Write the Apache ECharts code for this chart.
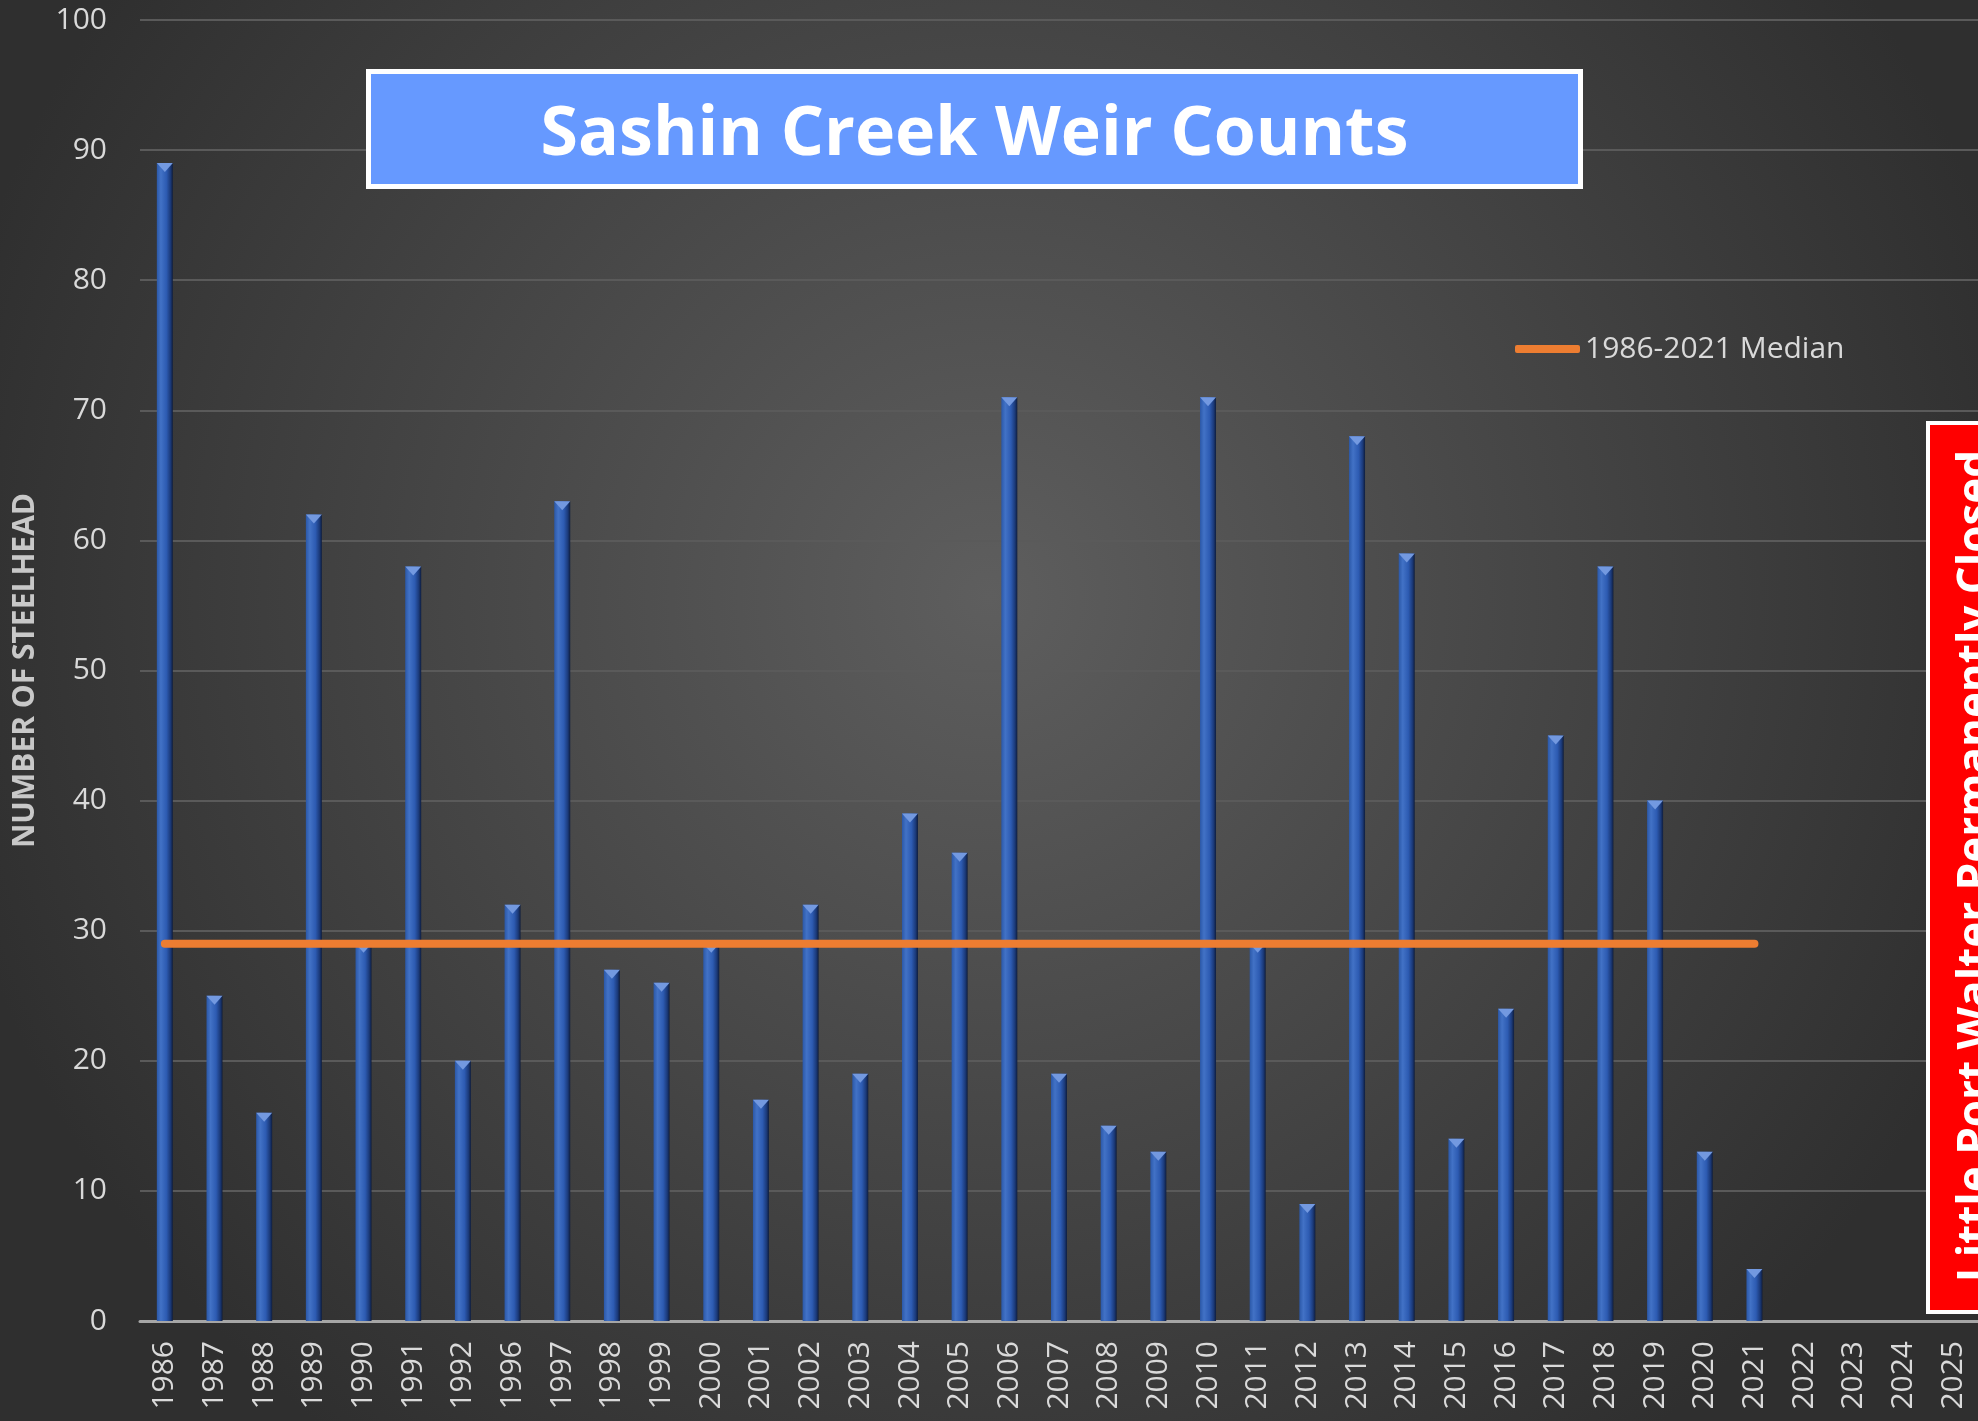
<!DOCTYPE html>
<html>
<head>
<meta charset="utf-8">
<title>Sashin Creek Weir Counts</title>
<script src="https://cdn.jsdelivr.net/npm/echarts@6/dist/echarts.min.js"></script>
<style>
  html, body { margin: 0; padding: 0; background: #3a3a3a; }
  #chart { width: 1978px; height: 1421px; }
</style>
</head>
<body>
<div id="chart"></div>
<script>
// 年份 (1993-1995 没有数据, 图中直接跳过)
const years = ['1986', '1987', '1988', '1989', '1990', '1991', '1992',
  '1996', '1997', '1998', '1999', '2000', '2001', '2002', '2003', '2004',
  '2005', '2006', '2007', '2008', '2009', '2010', '2011', '2012', '2013',
  '2014', '2015', '2016', '2017', '2018', '2019', '2020', '2021',
  '2022', '2023', '2024', '2025'];

// 每年的 steelhead 数量
const counts = [89, 25, 16, 62, 29, 58, 20,
  32, 63, 27, 26, 29, 17, 32, 19, 39,
  36, 71, 19, 15, 13, 71, 29, 9, 68,
  59, 14, 24, 45, 58, 40, 13, 4,
  null, null, null, null];

// 1986-2021 中位数线
const medianValues = [29, 29, 29, 29, 29, 29, 29,
  29, 29, 29, 29, 29, 29, 29, 29, 29,
  29, 29, 29, 29, 29, 29, 29, 29, 29,
  29, 29, 29, 29, 29, 29, 29, 29,
  null, null, null, null];

const yTicks = { min: 0, max: 100, interval: 10 };

const titleText = 'Sashin Creek Weir Counts';
const closedText = 'Little Port Walter Permanently Closed';
const medianName = '1986-2021 Median';

(function() {
  const chart = echarts.init(document.getElementById('chart'));
  const FONT = '"Open Sans", "Noto Sans", sans-serif';

  // 柱子的圆柱效果
  const barGradient = new echarts.graphic.LinearGradient(0, 0, 1, 0, [
    { offset: 0, color: '#2b58a8' },
    { offset: 0.25, color: '#4272c6' },
    { offset: 0.6, color: '#2d5bb2' },
    { offset: 0.85, color: '#1b3a7a' },
    { offset: 1, color: '#0f1d3c' }
  ]);

  const option = {
    backgroundColor: new echarts.graphic.RadialGradient(0.5, 0.42, 0.75, [
      { offset: 0, color: '#5e5e5e' },
      { offset: 1, color: '#2f2f2f' }
    ]),
    animation: false,
    grid: { left: 140, right: 0, top: 20, bottom: 100 },
    legend: {
      data: [medianName],
      left: 1510,
      top: 329,
      icon: 'roundRect',
      itemWidth: 65,
      itemHeight: 8,
      textStyle: { color: '#d9d9d9', fontSize: 30, fontFamily: FONT }
    },
    xAxis: {
      type: 'category',
      data: years,
      boundaryGap: true,
      axisTick: { show: false },
      axisLine: { lineStyle: { color: '#a6a6a6', width: 3 } },
      axisLabel: {
        rotate: 90,
        interval: 0,
        margin: 20,
        color: '#d9d9d9',
        fontSize: 30,
        fontFamily: FONT
      }
    },
    yAxis: {
      type: 'value',
      min: yTicks.min,
      max: yTicks.max,
      interval: yTicks.interval,
      name: 'NUMBER OF STEELHEAD',
      nameLocation: 'middle',
      nameRotate: 90,
      nameGap: 100,
      nameTextStyle: { color: '#c8c8c8', fontSize: 30, fontWeight: 'bold', fontFamily: FONT },
      axisLine: { show: false },
      axisTick: { show: false },
      axisLabel: { margin: 33, color: '#d9d9d9', fontSize: 30, fontFamily: FONT },
      splitLine: { lineStyle: { color: '#5a5a5a', width: 2 } }
    },
    series: [
      {
        name: 'Count',
        type: 'bar',
        data: counts,
        barWidth: 16,
        itemStyle: { color: barGradient },
        z: 2
      },
      {
        // 柱顶的小三角高光
        name: 'Top',
        type: 'pictorialBar',
        data: counts,
        symbol: 'triangle',
        symbolRotate: 180,
        symbolSize: [16, 9],
        symbolPosition: 'end',
        symbolOffset: [0, 0],
        itemStyle: { color: '#7399e0' },
        silent: true,
        z: 3
      },
      {
        name: medianName,
        type: 'line',
        data: medianValues,
        symbol: 'none',
        lineStyle: { color: '#ed7d31', width: 8, cap: 'round' },
        itemStyle: { color: '#ed7d31' },
        z: 5
      }
    ],
    graphic: [
      {
        // 标题框
        type: 'group',
        left: 366,
        top: 69,
        z: 10,
        children: [
          {
            type: 'rect',
            z: 10,
            shape: { x: 0, y: 0, width: 1212, height: 115 },
            style: { fill: '#6699ff', stroke: '#ffffff', lineWidth: 5 }
          },
          {
            type: 'text',
            z: 11,
            x: 606,
            y: 64,
            style: {
              text: titleText,
              fill: '#ffffff',
              font: 'bold 68px ' + FONT,
              textAlign: 'center',
              textVerticalAlign: 'middle'
            }
          }
        ]
      },
      {
        // 右侧红色说明框 (超出画布被截掉)
        type: 'rect',
        shape: { x: 1928, y: 423, width: 80, height: 889 },
        style: { fill: '#ff0000', stroke: '#ffffff', lineWidth: 4 },
        z: 10
      },
      {
        type: 'text',
        x: 1976,
        y: 866,
        rotation: Math.PI / 2,
        style: {
          text: closedText,
          fill: '#ffffff',
          font: 'bold 44px ' + FONT,
          textAlign: 'center',
          textVerticalAlign: 'middle'
        },
        z: 11
      }
    ]
  };

  chart.setOption(option);
})();
</script>
</body>
</html>
